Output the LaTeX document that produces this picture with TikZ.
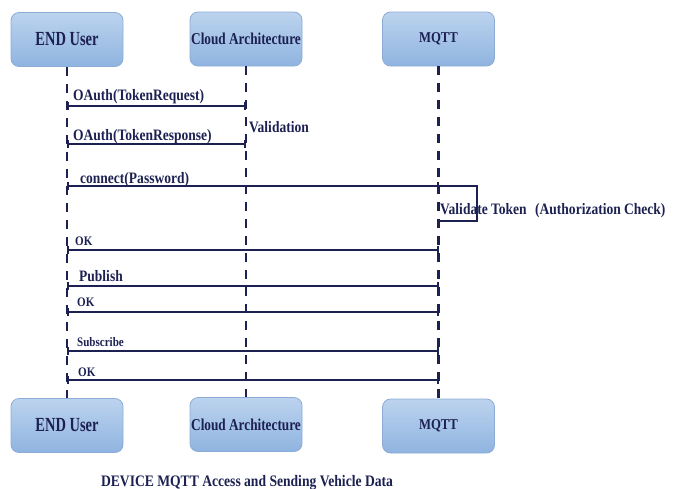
\documentclass[tikz,border=0pt]{standalone}
\usepackage{fontspec}
\usepackage{graphicx}
\setmainfont{Liberation Serif}[FakeStretch=0.85]
\usetikzlibrary{arrows.meta}
\definecolor{ink}{RGB}{28,33,82}
\definecolor{boxtop}{RGB}{188,211,238}
\definecolor{boxbot}{RGB}{143,180,224}
\definecolor{boxline}{RGB}{140,172,214}
% participant titles, set at their own sizes and widths
\newcommand{\euname}{\fontsize{20}{22}\selectfont\scalebox{0.85}[1]{END User}}
\newcommand{\caname}{\fontsize{16.6}{19}\selectfont\scalebox{0.94}[1]{Cloud Architecture}}
\newcommand{\mqname}{\fontsize{15}{18}\selectfont\raisebox{1.5pt}{MQTT}}
\tikzset{
  actor/.style={draw=boxline, line width=0.8pt, rounded corners=8pt,
    top color=boxtop, bottom color=boxbot,
    minimum width=112pt, minimum height=54pt, inner sep=0pt,
    text=ink, font=\bfseries},
  lifeline/.style={ink, line width=2.2pt, dash pattern=on 9pt off 8pt},
  msg/.style={ink, line width=2pt, {Bar[width=8pt]}-{Bar[width=8pt]}},
  selfmsg/.style={ink, line width=2pt},
  lbl/.style={anchor=base west, inner sep=0pt, text=ink,
    font=\bfseries\fontsize{15.9}{18}\selectfont},
  smalllbl/.style={lbl, font=\bfseries\fontsize{13}{15}\selectfont},
}
\begin{document}
\begin{tikzpicture}[x=1pt, y=-1pt]
  \useasboundingbox (0,0) rectangle (677,488);

  % participants, top row
  \node[actor] (euT) at (67,39.5) {\euname};
  \node[actor] (caT) at (246,39) {\caname};
  \node[actor] (mqT) at (438.5,39) {\mqname};

  % participants, bottom row
  \node[actor] (euB) at (67,425.5) {\euname};
  \node[actor] (caB) at (246,424.5) {\caname};
  \node[actor] (mqB) at (438.5,426) {\mqname};

  % lifelines
  \draw[lifeline] (euT.south) -- (euB.north);
  \draw[lifeline] (caT.south) -- (caB.north);
  \draw[lifeline] (mqT.south) -- (mqB.north);

  % messages
  \draw[msg] (euT.south |- 0,106) -- (caT.south |- 0,106);
  \node[lbl] (m1) at (73,100) {OAuth(TokenRequest)};

  \draw[msg] (euT.south |- 0,144) -- (caT.south |- 0,144);
  \node[lbl] (m2) at (73,140) {OAuth(TokenResponse)};
  \node[lbl] (val) at (249,132) {Validation};

  \draw[msg] (euT.south |- 0,186) -- (mqT.south |- 0,186);
  \node[lbl] (m3) at (80,183) {connect(Password)};

  % token check on the broker
  \draw[selfmsg] (mqT.south |- 0,186) -- ++(38,0) |- (mqT.south |- 0,221);
  \node[lbl] (vt) at (440,214) {Validate Token};
  \node[lbl] (ac) at (535,214) {(Authorization Check)};

  \draw[msg] (euT.south |- 0,250) -- (mqT.south |- 0,250);
  \node[smalllbl] (m4) at (75,245) {OK};

  \draw[msg] (euT.south |- 0,286) -- (mqT.south |- 0,286);
  \node[lbl] (m5) at (79,281) {Publish};

  \draw[msg] (euT.south |- 0,312) -- (mqT.south |- 0,312);
  \node[smalllbl] (m6) at (77,306) {OK};

  \draw[msg] (euT.south |- 0,351) -- (mqT.south |- 0,351);
  \node[smalllbl] (m7) at (77,346) {Subscribe};

  \draw[msg] (euT.south |- 0,380) -- (mqT.south |- 0,380);
  \node[smalllbl] (m8) at (78,376) {OK};

  % caption
  \node[lbl, anchor=base, font=\bfseries\fontsize{16}{19}\selectfont] (cap) at (247,486)
    {DEVICE MQTT Access and Sending Vehicle Data};
\end{tikzpicture}
\end{document}
